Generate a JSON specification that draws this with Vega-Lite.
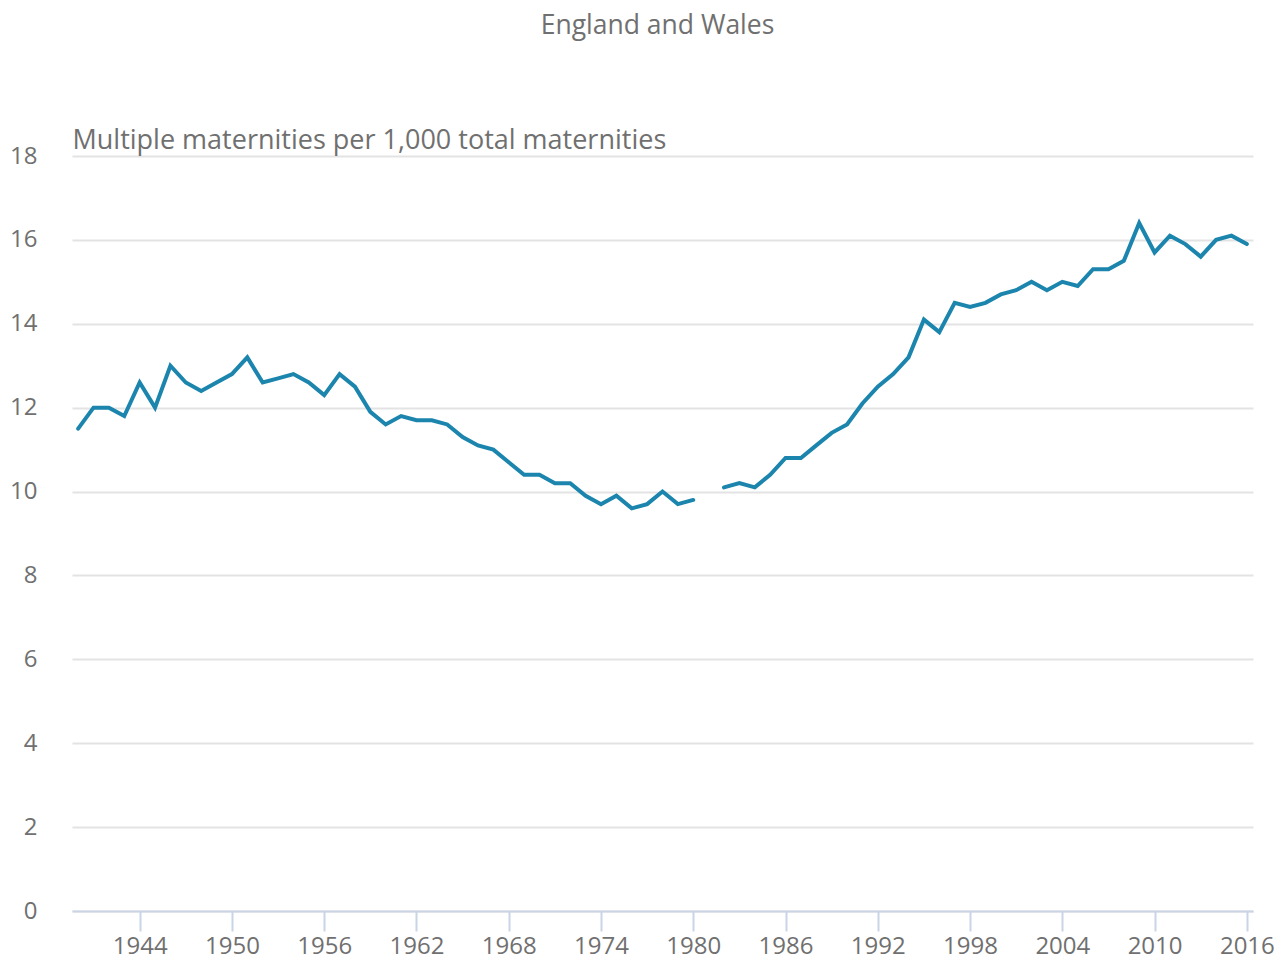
{
  "$schema": "https://vega.github.io/schema/vega-lite/v6.json",
  "width": 1181,
  "height": 755,
  "autosize": {"type": "none"},
  "padding": {"left": 72, "top": 156, "right": 29, "bottom": 47},
  "background": "white",
  "title": {
    "text": "England and Wales",
    "font": "Open Sans",
    "fontSize": 26.5,
    "fontWeight": "normal",
    "color": "#707070",
    "anchor": "middle",
    "baseline": "alphabetic",
    "offset": 66,
    "dx": -5
  },
  "data": {
    "values": [
      {"year": 1940, "value": 11.5},
      {"year": 1941, "value": 12.0},
      {"year": 1942, "value": 12.0},
      {"year": 1943, "value": 11.8},
      {"year": 1944, "value": 12.6},
      {"year": 1945, "value": 12.0},
      {"year": 1946, "value": 13.0},
      {"year": 1947, "value": 12.6},
      {"year": 1948, "value": 12.4},
      {"year": 1949, "value": 12.6},
      {"year": 1950, "value": 12.8},
      {"year": 1951, "value": 13.2},
      {"year": 1952, "value": 12.6},
      {"year": 1953, "value": 12.7},
      {"year": 1954, "value": 12.8},
      {"year": 1955, "value": 12.6},
      {"year": 1956, "value": 12.3},
      {"year": 1957, "value": 12.8},
      {"year": 1958, "value": 12.5},
      {"year": 1959, "value": 11.9},
      {"year": 1960, "value": 11.6},
      {"year": 1961, "value": 11.8},
      {"year": 1962, "value": 11.7},
      {"year": 1963, "value": 11.7},
      {"year": 1964, "value": 11.6},
      {"year": 1965, "value": 11.3},
      {"year": 1966, "value": 11.1},
      {"year": 1967, "value": 11.0},
      {"year": 1968, "value": 10.7},
      {"year": 1969, "value": 10.4},
      {"year": 1970, "value": 10.4},
      {"year": 1971, "value": 10.2},
      {"year": 1972, "value": 10.2},
      {"year": 1973, "value": 9.9},
      {"year": 1974, "value": 9.7},
      {"year": 1975, "value": 9.9},
      {"year": 1976, "value": 9.6},
      {"year": 1977, "value": 9.7},
      {"year": 1978, "value": 10.0},
      {"year": 1979, "value": 9.7},
      {"year": 1980, "value": 9.8},
      {"year": 1981, "value": null},
      {"year": 1982, "value": 10.1},
      {"year": 1983, "value": 10.2},
      {"year": 1984, "value": 10.1},
      {"year": 1985, "value": 10.4},
      {"year": 1986, "value": 10.8},
      {"year": 1987, "value": 10.8},
      {"year": 1988, "value": 11.1},
      {"year": 1989, "value": 11.4},
      {"year": 1990, "value": 11.6},
      {"year": 1991, "value": 12.1},
      {"year": 1992, "value": 12.5},
      {"year": 1993, "value": 12.8},
      {"year": 1994, "value": 13.2},
      {"year": 1995, "value": 14.1},
      {"year": 1996, "value": 13.8},
      {"year": 1997, "value": 14.5},
      {"year": 1998, "value": 14.4},
      {"year": 1999, "value": 14.5},
      {"year": 2000, "value": 14.7},
      {"year": 2001, "value": 14.8},
      {"year": 2002, "value": 15.0},
      {"year": 2003, "value": 14.8},
      {"year": 2004, "value": 15.0},
      {"year": 2005, "value": 14.9},
      {"year": 2006, "value": 15.3},
      {"year": 2007, "value": 15.3},
      {"year": 2008, "value": 15.5},
      {"year": 2009, "value": 16.4},
      {"year": 2010, "value": 15.7},
      {"year": 2011, "value": 16.1},
      {"year": 2012, "value": 15.9},
      {"year": 2013, "value": 15.6},
      {"year": 2014, "value": 16.0},
      {"year": 2015, "value": 16.1},
      {"year": 2016, "value": 15.9}
    ]
  },
  "mark": {"type": "line", "color": "#1b85ad", "strokeWidth": 4, "strokeJoin": "miter", "strokeCap": "round"},
  "encoding": {
    "x": {
      "field": "year",
      "type": "quantitative",
      "scale": {"domain": [1939.6, 2016.4], "nice": false, "zero": false},
      "axis": {
        "title": null,
        "values": [1944, 1950, 1956, 1962, 1968, 1974, 1980, 1986, 1992, 1998, 2004, 2010, 2016],
        "format": "d",
        "grid": false,
        "domainColor": "#c9d4e6",
        "domainWidth": 2,
        "tickColor": "#c9d4e6",
        "tickWidth": 2,
        "tickSize": 20,
        "labelPadding": 3,
        "labelFont": "Open Sans",
        "labelFontSize": 24,
        "labelColor": "#707070",
        "labelBaseline": "top",
        "labelFlush": false,
        "labelOverlap": false
      }
    },
    "y": {
      "field": "value",
      "type": "quantitative",
      "scale": {"domain": [0, 18], "nice": false},
      "axis": {
        "title": "Multiple maternities per 1,000 total maternities",
        "titleAngle": 0,
        "titleAlign": "left",
        "titleBaseline": "alphabetic",
        "titleX": 0,
        "titleY": -8,
        "titleFont": "Open Sans",
        "titleFontSize": 27,
        "titleFontWeight": "normal",
        "titleColor": "#707070",
        "values": [0, 2, 4, 6, 8, 10, 12, 14, 16, 18],
        "domain": false,
        "ticks": false,
        "tickSize": 0,
        "grid": true,
        "gridColor": "#e3e3e3",
        "gridWidth": 2,
        "labelPadding": 35,
        "labelFont": "Open Sans",
        "labelFontSize": 24,
        "labelColor": "#707070",
        "labelBaseline": "middle",
        "labelFlush": false
      }
    }
  },
  "config": {"view": {"stroke": null}}
}
